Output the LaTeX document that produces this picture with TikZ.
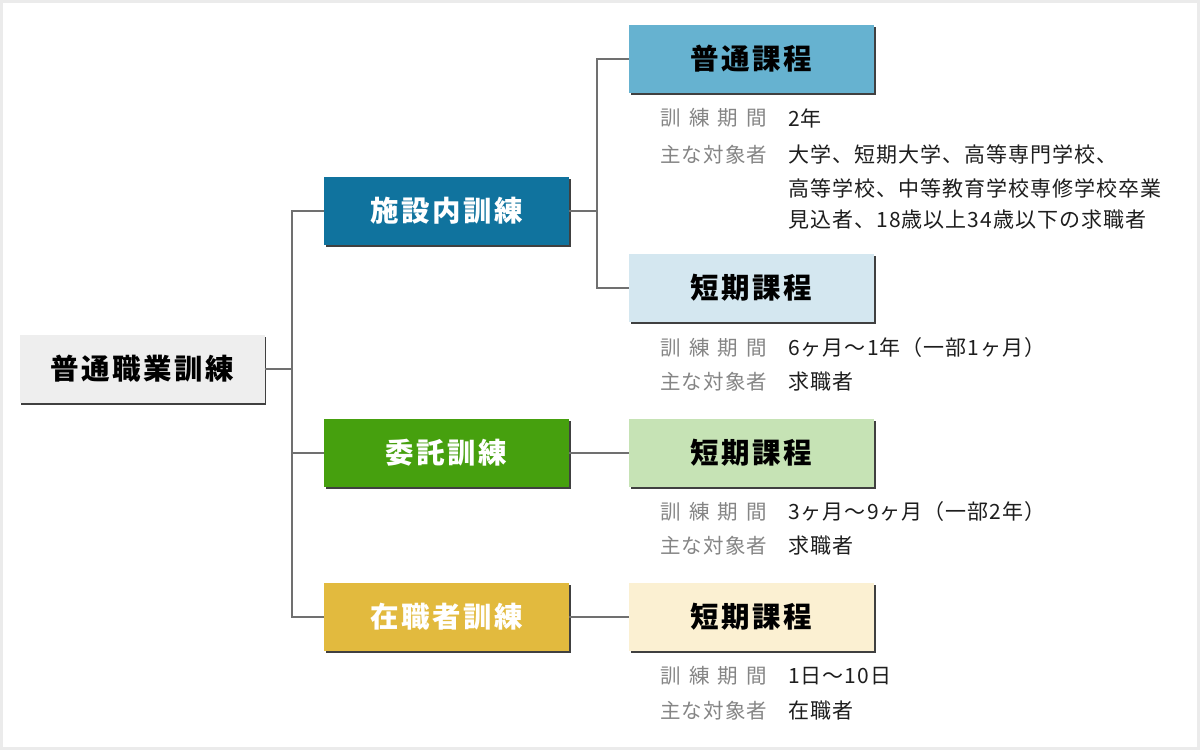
\documentclass[tikz,border=0pt]{standalone}
\usepackage{fontspec}
\setmainfont{Noto Sans CJK JP}
\newfontfamily\boxfont[LetterSpace=9]{Noto Sans CJK JP}
\newfontfamily\infofont[LetterSpace=5]{Noto Sans CJK JP}
\definecolor{rootfill}{HTML}{EEEEEE}
\definecolor{bluedark}{HTML}{10739E}
\definecolor{bluemid}{HTML}{66B2D0}
\definecolor{bluelight}{HTML}{D4E7F0}
\definecolor{greendark}{HTML}{46A00E}
\definecolor{greenlight}{HTML}{C6E3B5}
\definecolor{yellowdark}{HTML}{E2BA3E}
\definecolor{yellowlight}{HTML}{FBF0D2}
\definecolor{linegray}{HTML}{707070}
\definecolor{labelgray}{HTML}{858585}
\definecolor{valuetext}{HTML}{1E1E1E}
\definecolor{framegray}{HTML}{EBEBEB}
\tikzset{
  boxnode/.style={minimum width=245pt, minimum height=68pt, inner sep=0pt,
    font=\boxfont\fontsize{28.5}{30}\selectfont\bfseries,
    preaction={fill=black!75, transform canvas={xshift=1.6pt, yshift=-1.6pt}}},
  conn/.style={draw=linegray, line width=1.5pt},
  lbl/.style={anchor=west, inner sep=0pt, text=labelgray, font=\infofont\fontsize{20.5}{33}\selectfont},
  val/.style={anchor=west, inner sep=0pt, text=valuetext, font=\infofont\fontsize{21}{33}\selectfont},
}
\newcommand{\kikan}{\makebox[107pt][s]{訓\hfill 練\hfill 期\hfill 間}}
\newcommand{\taisho}{\makebox[107pt][s]{主\hfill な\hfill 対\hfill 象\hfill 者}}
\begin{document}
\begin{tikzpicture}[x=1pt,y=-1pt]
\useasboundingbox (0,0) rectangle (1200,750);
\fill[white] (0,0) rectangle (1200,750);
\draw[framegray, line width=3pt] (1.5,1.5) rectangle (1198.5,748.5);

% boxes
\node[boxnode, fill=rootfill, text=black] (root) at (142,369) {普通職業訓練};
\node[boxnode, fill=bluedark, text=white] (shisetsu) at (446.5,211) {施設内訓練};
\node[boxnode, fill=greendark, text=white] (itaku) at (446.5,453) {委託訓練};
\node[boxnode, fill=yellowdark, text=white] (zaishoku) at (446.5,617) {在職者訓練};
\node[boxnode, fill=bluemid, text=black] (futsu) at (751.5,59) {普通課程};
\node[boxnode, fill=bluelight, text=black] (tanki1) at (751.5,288) {短期課程};
\node[boxnode, fill=greenlight, text=black] (tanki2) at (751.5,453) {短期課程};
\node[boxnode, fill=yellowlight, text=black] (tanki3) at (751.5,617) {短期課程};

% connectors
\coordinate (j1) at (292,369);
\coordinate (j2) at (597,211);
\draw[conn] (root.east) -- (j1);
\draw[conn] (shisetsu.west) -- (shisetsu.west -| j1) -- (zaishoku.west -| j1) -- (zaishoku.west);
\draw[conn] (itaku.west) -- (itaku.west -| j1);
\draw[conn] (shisetsu.east) -- (j2);
\draw[conn] (futsu.west) -- (futsu.west -| j2) -- (tanki1.west -| j2) -- (tanki1.west);
\draw[conn] (itaku.east) -- (tanki2.west);
\draw[conn] (zaishoku.east) -- (tanki3.west);

% info texts
\node[lbl] (l1a) at (660,118) {\kikan};
\node[val] (v1a) at (788,118) {2年};
\node[lbl] (l1b) at (660,155) {\taisho};
\node[val] (v1b) at (788,155) {大学、短期大学、高等専門学校、};
\node[val] (v1c) at (788,188) {高等学校、中等教育学校専修学校卒業};
\node[val] (v1d) at (788,220) {見込者、18歳以上34歳以下の求職者};

\node[lbl] (l2a) at (660,348) {\kikan};
\node[val] (v2a) at (788,348) {6ヶ月～1年（一部1ヶ月）};
\node[lbl] (l2b) at (660,382) {\taisho};
\node[val] (v2b) at (788,382) {求職者};

\node[lbl] (l3a) at (660,512) {\kikan};
\node[val] (v3a) at (788,512) {3ヶ月～9ヶ月（一部2年）};
\node[lbl] (l3b) at (660,546) {\taisho};
\node[val] (v3b) at (788,546) {求職者};

\node[lbl] (l4a) at (660,676) {\kikan};
\node[val] (v4a) at (788,676) {1日～10日};
\node[lbl] (l4b) at (660,711) {\taisho};
\node[val] (v4b) at (788,711) {在職者};
\end{tikzpicture}
\end{document}
